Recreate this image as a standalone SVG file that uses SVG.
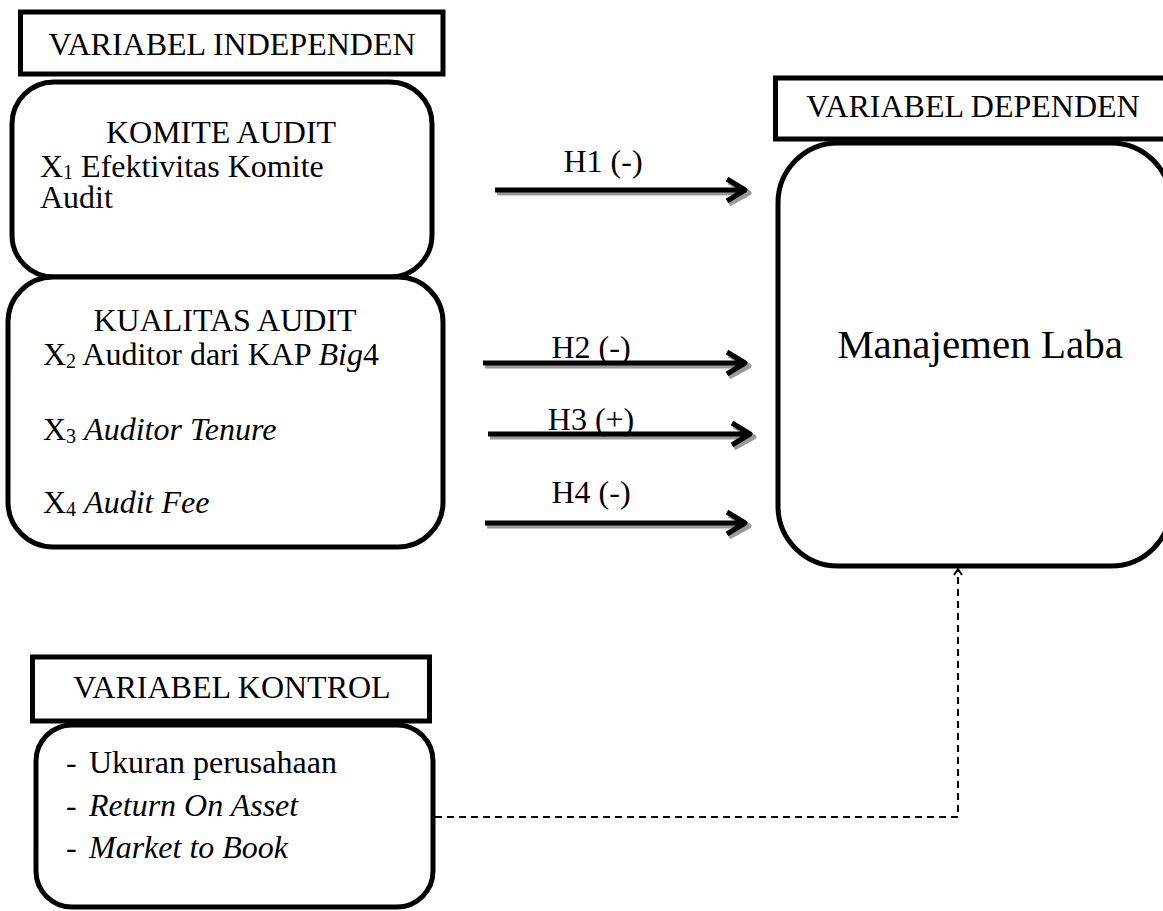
<svg xmlns="http://www.w3.org/2000/svg" width="1163" height="911" viewBox="0 0 1163 911">
<style>
text{font-family:"Liberation Serif","Times New Roman",serif;font-size:32px;fill:#000}
.hdr{fill:#fff;stroke:#000;stroke-width:5}
.box{fill:#fff;stroke:#000;stroke-width:5}
.c{text-anchor:middle}
.i{font-style:italic}
.sub{font-size:20px}
.ln{fill:none;stroke:#000;stroke-width:5;stroke-linejoin:round}
.sh{fill:none;stroke:#9a9a9a;stroke-width:5;stroke-linejoin:round}
.dash{fill:none;stroke:#000;stroke-width:2;stroke-dasharray:7 5}
</style>

<g id="hdr-independen">
<rect class="hdr" x="20.5" y="12" width="422.5" height="62"/>
<text class="c" x="232" y="55">VARIABEL INDEPENDEN</text>
</g>

<g id="komite-audit">
<rect class="box" x="12" y="82" width="420" height="195" rx="42"/>
<text class="c" x="221" y="143">KOMITE AUDIT</text>
<text x="40" y="177">X<tspan class="sub" dy="2">1</tspan><tspan dy="-2"> Efektivitas Komite</tspan></text>
<text x="40" y="208">Audit</text>
</g>

<g id="kualitas-audit">
<rect class="box" x="8" y="277" width="435" height="270" rx="45"/>
<text class="c" x="225" y="331">KUALITAS AUDIT</text>
<text x="43" y="365">X<tspan class="sub" dy="3">2</tspan><tspan dy="-3"> Auditor dari KAP </tspan><tspan class="i">Big</tspan>4</text>
<text x="43" y="440">X<tspan class="sub" dy="3">3</tspan><tspan dy="-3"> </tspan><tspan class="i">Auditor Tenure</tspan></text>
<text x="43" y="513">X<tspan class="sub" dy="3">4</tspan><tspan dy="-3"> </tspan><tspan class="i">Audit Fee</tspan></text>
</g>

<g id="hdr-dependen">
<rect class="hdr" x="775.5" y="78" width="400" height="61"/>
<text class="c" x="973" y="117">VARIABEL DEPENDEN</text>
</g>

<g id="manajemen-laba">
<rect class="box" x="778" y="143" width="393" height="423" rx="60"/>
<text class="c" x="980" y="358" style="font-size:41px">Manajemen Laba</text>
</g>

<g id="hdr-kontrol">
<rect class="hdr" x="32.5" y="657" width="397" height="64"/>
<text class="c" x="232" y="698">VARIABEL KONTROL</text>
</g>

<g id="variabel-kontrol">
<rect class="box" x="36" y="725" width="397" height="182" rx="36"/>
<text x="66" y="773">-</text><text x="89" y="773">Ukuran perusahaan</text>
<text x="66" y="816">-</text><text class="i" x="89" y="816">Return On Asset</text>
<text x="66" y="858">-</text><text class="i" x="89" y="858">Market to Book</text>
</g>

<g id="connectors">
<g id="h1">
<path class="sh" d="M497 193H747M729 182L749 193L729 204"/>
<path class="ln" d="M495 190H745M727 179L745 190L727 201"/>
</g>
<g id="h2">
<path class="sh" d="M485 366H747M729 355L749 366L729 377"/>
<path class="ln" d="M483 363H745M727 352L745 363L727 374"/>
</g>
<g id="h3">
<path class="sh" d="M490 437H752M734 426L754 437L734 448"/>
<path class="ln" d="M488 434H750M732 423L750 434L732 445"/>
</g>
<g id="h4">
<path class="sh" d="M487 526H747M729 515L749 526L729 537"/>
<path class="ln" d="M485 523H745M727 512L745 523L727 534"/>
</g>
<g id="control-link">
<path class="dash" d="M435 817H958V571"/>
<path fill="none" stroke="#000" stroke-width="2" d="M954 575L958 569L962 575"/>
</g>
</g>

<g id="labels">
<text class="c" x="603" y="172">H1 (-)</text>
<text class="c" x="591" y="358">H2 (-)</text>
<text class="c" x="591" y="430">H3 (+)</text>
<text class="c" x="591" y="503">H4 (-)</text>
</g>
</svg>
